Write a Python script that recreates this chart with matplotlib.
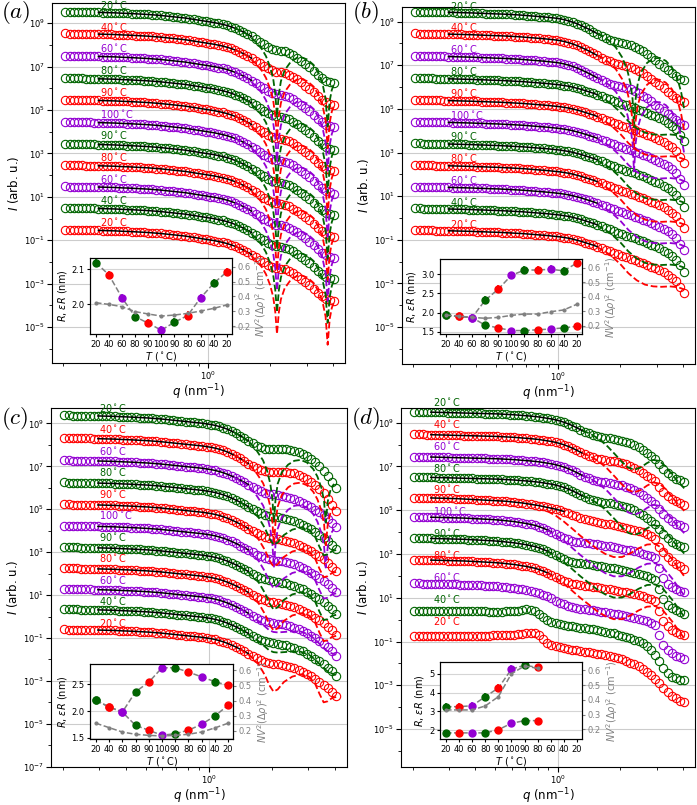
import matplotlib
matplotlib.use("Agg")
import matplotlib.pyplot as plt
import numpy as np
from matplotlib.ticker import FixedLocator, NullFormatter

GREEN, RED, PURPLE = "darkgreen", "red", "darkviolet"
COLORS = [GREEN, RED, PURPLE] * 4
TEMPS = ["20", "40", "60", "80", "90", "100", "90", "80", "60", "40", "20"]

# scattering vector of the measured points (nm^-1)
Q = [0.204, 0.214, 0.224, 0.234, 0.245, 0.257, 0.269, 0.282, 0.295, 0.309,
     0.324, 0.339, 0.355, 0.372, 0.389, 0.407, 0.427, 0.447, 0.468, 0.490,
     0.513, 0.537, 0.562, 0.589, 0.617, 0.646, 0.676, 0.708, 0.741, 0.776,
     0.813, 0.851, 0.891, 0.933, 0.977, 1.023, 1.072, 1.122, 1.175, 1.230,
     1.288, 1.349, 1.413, 1.479, 1.549, 1.622, 1.698, 1.778, 1.862, 1.950,
     2.042, 2.138, 2.239, 2.344, 2.455, 2.570, 2.692, 2.818, 2.951, 3.090,
     3.236, 3.388, 3.548, 3.715, 3.890, 4.074]

# log10 intensity relative to the low-q plateau
A = [0, -.005, -.01, -.01, -.015, -.02, -.02, -.025, -.03, -.035,
     -.04, -.045, -.05, -.06, -.07, -.075, -.085, -.095, -.105, -.115,
     -.125, -.14, -.155, -.17, -.19, -.21, -.23, -.25, -.27, -.29,
     -.32, -.35, -.38, -.41, -.44, -.47, -.50, -.54, -.58, -.63,
     -.69, -.76, -.84, -.93, -1.03, -1.14, -1.26, -1.38, -1.50, -1.61,
     -1.70, -1.76, -1.79, -1.83, -1.90, -2.00, -2.12, -2.25, -2.40, -2.55,
     -2.72, -2.90, -3.05, -3.18, -3.25, -3.30]
B_LOW = [0, -.005, -.01, -.01, -.015, -.02, -.02, -.025, -.03, -.035,
         -.04, -.045, -.05, -.055, -.06, -.07, -.075, -.085, -.09, -.10,
         -.105, -.11, -.12, -.13, -.14, -.15, -.165, -.18, -.195, -.21,
         -.225, -.24, -.26, -.28, -.30, -.33, -.37, -.42, -.48, -.55,
         -.63, -.72, -.81, -.91, -1.01, -1.11, -1.20, -1.28, -1.34, -1.39,
         -1.44, -1.49, -1.54, -1.61, -1.70, -1.82, -1.95, -2.09, -2.24, -2.38,
         -2.52, -2.67, -2.82, -2.95, -3.07, -3.15]
B_HIGH = [0, -.005, -.01, -.01, -.015, -.02, -.02, -.025, -.03, -.035,
          -.04, -.045, -.05, -.055, -.06, -.07, -.075, -.08, -.09, -.095,
          -.10, -.11, -.12, -.13, -.14, -.15, -.16, -.175, -.19, -.205,
          -.22, -.235, -.25, -.27, -.29, -.31, -.34, -.37, -.41, -.46,
          -.51, -.57, -.63, -.69, -.76, -.83, -.90, -.97, -1.04, -1.11,
          -1.18, -1.25, -1.31, -1.38, -1.45, -1.52, -1.59, -1.67, -1.75, -1.84,
          -1.94, -2.05, -2.18, -2.35, -2.62, -2.90]
C_TOP = [0, -.005, -.01, -.01, -.015, -.02, -.02, -.025, -.03, -.035,
         -.04, -.045, -.05, -.06, -.07, -.075, -.085, -.095, -.105, -.115,
         -.125, -.14, -.155, -.17, -.19, -.21, -.23, -.25, -.27, -.29,
         -.31, -.33, -.35, -.37, -.40, -.43, -.47, -.52, -.58, -.65,
         -.74, -.84, -.95, -1.07, -1.19, -1.31, -1.42, -1.50, -1.55, -1.57,
         -1.57, -1.57, -1.57, -1.58, -1.61, -1.65, -1.72, -1.81, -1.92, -2.04,
         -2.18, -2.36, -2.58, -2.82, -3.10, -3.40]
C_MID = [0, -.005, -.01, -.01, -.015, -.02, -.02, -.025, -.03, -.035,
         -.04, -.045, -.05, -.06, -.07, -.075, -.085, -.095, -.105, -.115,
         -.125, -.14, -.155, -.17, -.19, -.21, -.23, -.25, -.27, -.29,
         -.31, -.33, -.35, -.37, -.40, -.43, -.47, -.52, -.58, -.65,
         -.73, -.82, -.92, -1.02, -1.13, -1.24, -1.34, -1.43, -1.50, -1.55,
         -1.59, -1.62, -1.65, -1.69, -1.74, -1.80, -1.88, -1.97, -2.07, -2.18,
         -2.30, -2.43, -2.57, -2.72, -2.90, -3.10]
D1 = [0, -.005, -.01, -.015, -.02, -.025, -.03, -.035, -.04, -.045,
      -.05, -.055, -.06, -.065, -.07, -.075, -.08, -.085, -.09, -.095,
      -.10, -.11, -.12, -.13, -.14, -.155, -.17, -.185, -.20, -.22,
      -.24, -.27, -.30, -.33, -.37, -.42, -.48, -.55, -.63, -.72,
      -.82, -.91, -.99, -1.06, -1.11, -1.15, -1.18, -1.21, -1.24, -1.28,
      -1.32, -1.37, -1.43, -1.52, -1.63, -1.76, -1.89, -2.02, -2.15, -2.40,
      -2.62, -2.80, -2.95, -3.06, -3.14, -3.22]
D2 = [0, -.005, -.01, -.015, -.02, -.025, -.03, -.035, -.04, -.045,
      -.05, -.06, -.07, -.08, -.09, -.10, -.11, -.12, -.13, -.14,
      -.15, -.16, -.17, -.19, -.21, -.23, -.25, -.28, -.31, -.34,
      -.37, -.41, -.45, -.49, -.53, -.58, -.64, -.71, -.78, -.86,
      -.93, -.99, -1.04, -1.08, -1.12, -1.16, -1.20, -1.23, -1.27, -1.31,
      -1.35, -1.39, -1.43, -1.47, -1.52, -1.59, -1.67, -1.76, -1.88, -2.25,
      -2.50, -2.72, -2.88, -3.02, -3.15, -3.27]
D3 = [0, -.005, -.01, -.015, -.02, -.025, -.03, -.035, -.04, -.045,
      -.05, -.055, -.06, -.07, -.08, -.09, -.10, -.11, -.12, -.13,
      -.145, -.16, -.18, -.20, -.22, -.25, -.28, -.31, -.35, -.39,
      -.45, -.52, -.60, -.69, -.79, -.88, -.96, -1.03, -1.09, -1.13,
      -1.16, -1.19, -1.21, -1.24, -1.26, -1.29, -1.32, -1.35, -1.38, -1.42,
      -1.46, -1.50, -1.54, -1.58, -1.63, -1.68, -1.74, -1.81, -1.90, -2.35,
      -2.80, -3.05, -3.20, -3.30, -3.38, -3.45]
D5A = [0, 0, 0, 0, 0, -.005, -.005, -.01, -.01, -.01,
       -.015, -.015, -.015, -.02, -.02, -.02, -.025, -.025, -.03, -.03,
       -.03, -.03, -.025, -.02, -.01, .01, .04, .07, .06, 0,
       -.12, -.28, -.42, -.50, -.56, -.60, -.64, -.67, -.71, -.74,
       -.77, -.80, -.82, -.85, -.88, -.91, -.95, -.99, -1.03, -1.08,
       -1.13, -1.19, -1.25, -1.31, -1.38, -1.48, -1.62, -1.80, -2.02, -2.28,
       -2.60, -2.85, -3.00, -3.08, -3.14, -3.18]
D5B = [0, 0, 0, 0, 0, 0, 0, 0, 0, 0,
       0, 0, .005, .005, .01, .01, .015, .015, .02, .025,
       .03, .035, .04, .05, .065, .085, .11, .14, .16, .14,
       .04, -.14, -.30, -.40, -.47, -.52, -.56, -.59, -.63, -.66,
       -.69, -.72, -.75, -.78, -.81, -.84, -.87, -.91, -.96, -1.01,
       -1.07, -1.14, -1.21, -1.29, -1.38, -1.50, -1.64, -1.80, -1.97, -2.16,
       -2.36, -2.55, -2.72, -2.85, -2.95, -3.03]

# model curves (dashed), same relative log10 scale
QA_FIT = [1.349, 1.479, 1.585, 1.698, 1.820, 1.905, 1.995, 2.065, 2.113, 2.153, 2.198, 2.249,
          2.344, 2.512, 2.692, 2.818, 3.020, 3.236, 3.428, 3.589, 3.698, 3.784, 3.873, 3.963, 4.074]
A_FIT = [-.76, -.93, -1.12, -1.38, -1.72, -2.05, -2.55, -3.1, -3.8, -4.8, -3.8, -3.2,
         -2.7, -2.3, -2.12, -2.1, -2.2, -2.45, -2.85, -3.4, -4.0, -5.3, -4.1, -3.6, -3.3]
QB_SPH = [1.549, 1.660, 1.778, 1.905, 2.042, 2.163, 2.239, 2.291, 2.328, 2.371,
          2.427, 2.512, 2.692, 2.884, 3.090, 3.311, 3.548, 3.758, 3.936, 4.074]
B_SPH = [-1.0, -1.15, -1.35, -1.65, -2.1, -2.7, -3.3, -4.0, -5.3, -4.0,
         -3.3, -2.8, -2.35, -2.15, -2.12, -2.25, -2.55, -3.0, -3.7, -4.5]
QB_ELL = [1.549, 1.778, 1.995, 2.188, 2.399, 2.630, 2.884, 3.162, 3.467, 3.802, 4.074]
B_ELL = [-.78, -1.12, -1.55, -1.98, -2.3, -2.5, -2.58, -2.6, -2.58, -2.62, -2.72]
QC_SPH = [1.318, 1.445, 1.585, 1.698, 1.820, 1.905, 1.972, 2.018, 2.051, 2.089, 2.138, 2.239,
          2.399, 2.570, 2.754, 2.951, 3.162, 3.311, 3.467, 3.565, 3.631, 3.715, 3.846, 3.981]
C_SPH = [-.78, -1.0, -1.3, -1.65, -2.1, -2.6, -3.2, -3.9, -5.0, -3.9, -3.2, -2.65,
         -2.3, -2.12, -2.08, -2.2, -2.5, -2.85, -3.4, -4.0, -5.0, -4.0, -3.4, -3.2]
QC_ELL = [1.413, 1.585, 1.738, 1.862, 1.950, 2.042, 2.138, 2.291, 2.512,
          2.754, 3.020, 3.236, 3.388, 3.548, 3.715, 3.890, 4.074]
C_ELL = [-.92, -1.24, -1.65, -2.15, -2.6, -2.9, -2.8, -2.45, -2.2,
         -2.1, -2.2, -2.55, -3.0, -3.4, -3.35, -3.2, -3.15]
C_ELL_SH = [-.92, -1.24, -1.5, -1.75, -1.92, -2.0, -2.02, -2.0, -1.97,
            -1.98, -2.12, -2.35, -2.55, -2.75, -2.9, -3.0, -3.05]
QD_S = [1.318, 1.445, 1.585, 1.738, 1.905, 2.042, 2.188, 2.344,
        2.512, 2.692, 2.884, 3.090, 3.311, 3.548, 3.802, 4.074]
D_S = [-.86, -1.02, -1.25, -1.58, -1.98, -2.3, -2.55, -2.65,
       -2.55, -2.35, -2.2, -2.25, -2.5, -2.85, -3.2, -3.5]
QD_B = [0.891, 0.977, 1.072, 1.175, 1.288, 1.413, 1.549, 1.698, 1.862,
        2.042, 2.239, 2.455, 2.692, 2.951, 3.236, 3.548, 3.802, 4.074]
D_B = [-.62, -.82, -1.1, -1.42, -1.75, -2.05, -2.35, -2.58, -2.72,
       -2.72, -2.55, -2.32, -2.15, -2.12, -2.35, -2.8, -3.2, -3.6]

# plateau log10 level of each stacked curve (top to bottom)
LEV_A = [9.53, 8.53, 7.50, 6.47, 5.47, 4.45, 3.44, 2.46, 1.48, 0.49, -0.52]
LEV_B = [9.46, 8.46, 7.43, 6.41, 5.41, 4.41, 3.42, 2.42, 1.43, 0.44, -0.56]
LEV_C = [9.38, 8.32, 7.28, 6.25, 5.23, 4.23, 3.23, 2.25, 1.28, 0.34, -0.60]
LEV_D = [9.50, 8.47, 7.45, 6.52, 5.58, 4.70, 3.73, 2.74, 1.66, 0.40, -0.75]

# inset values
INS_A_R = [2.12, 2.084, 2.018, 1.964, 1.945, 1.925, 1.948, 1.967, 2.018, 2.06, 2.093]
INS_A_N = [0.357, 0.346, 0.330, 0.297, 0.281, 0.267, 0.274, 0.285, 0.301, 0.319, 0.342]
INS_B_R = [1.93, 1.90, 1.87, 1.67, 1.60, 1.53, 1.53, 1.55, 1.57, 1.60, 1.64]
INS_B_ER = [1.93, 1.90, 1.87, 2.32, 2.61, 2.97, 3.11, 3.11, 3.13, 3.09, 3.29]
INS_B_N = [0.275, 0.268, 0.259, 0.253, 0.259, 0.273, 0.282, 0.282, 0.298, 0.310, 0.349]
INS_C_R = [2.20, 2.075, 1.98, 1.73, 1.64, 1.545, 1.575, 1.64, 1.75, 1.906, 2.107]
INS_C_ER = [2.20, 2.075, 1.98, 2.36, 2.54, 2.81, 2.81, 2.73, 2.64, 2.55, 2.48]
INS_C_N = [0.251, 0.222, 0.193, 0.178, 0.171, 0.167, 0.171, 0.178, 0.193, 0.22, 0.251]
INS_D_R = [1.86, 1.86, 1.86, 1.86, 2.03, 2.37, 2.51, 2.51]
INS_D_ER = [3.25, 3.25, 3.30, 3.78, 4.24, 5.24, 5.45, 5.33]
INS_D_N = [0.331, 0.331, 0.331, 0.358, 0.421, 0.577, 0.629, 0.613]

# per-curve: (data, black fit index range, model q, model curve)
SPEC_A = [(A, (8, 46), QA_FIT, A_FIT)] * 11
SPEC_B = [(B_LOW, (8, 46), QB_SPH, B_SPH)] * 3 + [(B_HIGH, (8, 45), QB_ELL, B_ELL)] * 8
SPEC_C = ([(C_TOP, (8, 45), QC_SPH, C_SPH)] * 2 + [(C_MID, (8, 45), QC_SPH, C_SPH)]
          + [(C_MID, (8, 45), QC_ELL, C_ELL)] * 5 + [(C_MID, (8, 45), QC_ELL, C_ELL_SH)] * 2
          + [(C_MID, (8, 45), QC_ELL, C_ELL)])
SPEC_D = ([(D1, (4, 42), QD_S, D_S)] * 4 + [(D2, (4, 37), QD_B, D_B)]
          + [(D3, (4, 34), QD_B, D_B)] * 3
          + [(D3, None, None, None), (D5A, None, None, None), (D5B, None, None, None)])

W, H = 697, 805
UP = 4  # bottom row lifted a little so its x labels stay inside the figure


def rect(x0, y0, x1, y1):
    return [x0 / W, 1 - y1 / H, (x1 - x0) / W, (y1 - y0) / H]


def main_panel(fig, r, spec, levels, lab_y, lab_q, ylog):
    ax = fig.add_axes(r)
    q = np.array(Q)
    for k, (tmpl, black, fq, ftmpl) in enumerate(spec):
        c = COLORS[k]
        y = 10 ** (levels[k] + np.array(tmpl))
        ax.plot(q, y, "o", ms=6, mfc="none", mec=c, mew=0.8, zorder=2)
        if black:
            ax.plot(q[black[0]:black[1]], y[black[0]:black[1]], "-", color="k", lw=1.1, zorder=3)
        if fq is not None:
            ax.plot(fq, 10 ** (levels[k] + np.array(ftmpl)), "--", color=c, lw=1.3, zorder=4)
        ax.text(lab_q, 10 ** (lab_y - k), TEMPS[k] + r"$^\circ$C", color=c,
                fontsize=7, va="center", ha="left", zorder=5)
    ax.set_xscale("log")
    ax.set_yscale("log")
    ax.set_xlim(0.176, 4.59)
    ax.set_ylim(10 ** ylog[0], 10 ** ylog[1])
    ax.xaxis.set_major_locator(FixedLocator([1.0]))
    ax.xaxis.set_minor_locator(FixedLocator([0.2, 0.3, 0.4, 0.5, 0.6, 0.7, 0.8, 0.9, 2, 3, 4]))
    ax.xaxis.set_minor_formatter(NullFormatter())
    ax.yaxis.set_major_locator(FixedLocator([10.0 ** e for e in range(-7, 11, 2)]))
    ax.yaxis.set_minor_locator(FixedLocator([10.0 ** e for e in range(-8, 11, 2)]))
    ax.yaxis.set_minor_formatter(NullFormatter())
    ax.set_axisbelow(True)
    ax.grid(True, which="major", color="#cccccc", lw=0.8)
    ax.tick_params(labelsize=6, pad=1.5)
    ax.set_xlabel(r"$q$ (nm$^{-1}$)", fontsize=8.5, labelpad=0)
    ax.set_ylabel(r"$I$ (arb. u.)", fontsize=8.5, labelpad=2)
    return ax


def inset(fig, r, rv, erv, nv, rerr, ererr, ylim_l, ylim_r, yt_l):
    ax = fig.add_axes(r)
    x = np.arange(len(rv))
    ax.set_axisbelow(True)
    ax.grid(True, axis="y", color="#d5d5d5", lw=0.8)
    if erv is not None:
        ax.plot(x, erv, "--", color="gray", lw=1.1, zorder=2)
    ax.plot(x, rv, "--", color="gray", lw=1.1, zorder=2)
    for i in range(len(rv)):
        if erv is not None:
            ax.errorbar(i, erv[i], yerr=ererr, fmt="o", color=COLORS[i], ms=5,
                        elinewidth=1.2, capsize=0, zorder=3)
        ax.errorbar(i, rv[i], yerr=rerr, fmt="o", color=COLORS[i], ms=5,
                    elinewidth=1.2, capsize=0, zorder=3)
    ax.set_xlim(-0.45, 10.4)
    ax.set_ylim(*ylim_l)
    ax.set_xticks(range(11))
    ax.set_xticklabels(TEMPS)
    ax.set_yticks(yt_l)
    ax.tick_params(labelsize=6, length=2.5, pad=1.5)
    ax.set_xlabel(r"$T$ ($^\circ$C)", fontsize=7, labelpad=1)
    ax.set_ylabel(r"$R$, $\varepsilon R$ (nm)", fontsize=7, labelpad=2)
    ax2 = ax.twinx()
    ax2.plot(np.arange(len(nv)), nv, "--", color="gray", marker=".", ms=4, lw=1.1)
    ax2.set_ylim(*ylim_r)
    ax2.set_yticks([0.2, 0.3, 0.4, 0.5, 0.6])
    ax2.tick_params(labelsize=6, length=2.5, pad=1.5, colors="gray")
    ax2.set_ylabel(r"$NV^2(\Delta\rho)^2$ (cm$^{-1}$)", fontsize=7, color="gray", labelpad=2)
    return ax


fig = plt.figure(figsize=(W / 100, H / 100), dpi=100)

main_panel(fig, rect(52, 3.3, 345, 363), SPEC_A, LEV_A, 9.84, 0.30, (-6.66, 9.92))
main_panel(fig, rect(402, 7.3, 695, 364), SPEC_B, LEV_B, 9.74, 0.30, (-6.7, 9.66))
main_panel(fig, rect(51, 412 - UP, 347, 770.7 - UP), SPEC_C, LEV_C, 9.72, 0.30, (-7.0, 9.72))
main_panel(fig, rect(401, 412 - UP, 695, 770.7 - UP), SPEC_D, LEV_D, 9.95, 0.25, (-6.72, 9.67))

inset(fig, rect(90, 258, 232, 334), INS_A_R, None, INS_A_N, 0.012, 0,
      (1.914, 2.133), (0.146, 0.659), [2.0, 2.1])
inset(fig, rect(440, 259.3, 582, 334), INS_B_R, INS_B_ER, INS_B_N, 0.03, 0.1,
      (1.44, 3.39), (0.145, 0.658), [1.5, 2.0, 2.5, 3.0])
inset(fig, rect(90, 668.3 - UP, 233.3, 743.3 - UP), INS_C_R, INS_C_ER, INS_C_N, 0.03, 0.06,
      (1.47, 2.875), (0.145, 0.64), [1.5, 2.0, 2.5])
inset(fig, rect(440, 666 - UP, 582.3, 743.3 - UP), INS_D_R, INS_D_ER, INS_D_N, 0.05, 0.2,
      (1.52, 5.62), (0.132, 0.656), [2, 3, 4, 5])

for lab, x, y in [("a", 1, 13), ("b", 352, 12), ("c", 1, 418), ("d", 351, 418)]:
    fig.text(x / W, 1 - y / H, "$(%s)$" % lab, fontsize=16.5, math_fontfamily="cm",
             ha="left", va="center")

fig.savefig("out.png", dpi=100)
